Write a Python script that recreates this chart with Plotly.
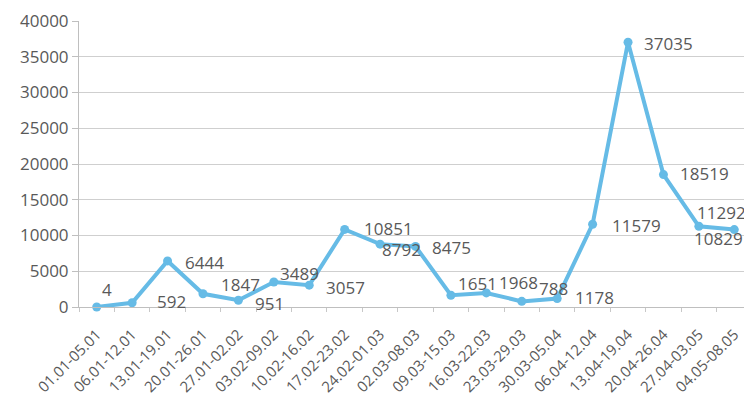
import plotly.graph_objects as go

categories = ["01.01-05.01", "06.01-12.01", "13.01-19.01", "20.01-26.01", "27.01-02.02",
              "03.02-09.02", "10.02-16.02", "17.02-23.02", "24.02-01.03", "02.03-08.03",
              "09.03-15.03", "16.03-22.03", "23.03-29.03", "30.03-05.04", "06.04-12.04",
              "13.04-19.04", "20.04-26.04", "27.04-03.05", "04.05-08.05"]
values = [4, 592, 6444, 1847, 951, 3489, 3057, 10851, 8792, 8475,
          1651, 1968, 788, 1178, 11579, 37035, 18519, 11292, 10829]
y_ticks = [0, 5000, 10000, 15000, 20000, 25000, 30000, 35000, 40000]

# label offsets in pixels (left edge dx, centre dy; screen coords)
label_dx = [3, 23, 15, 16, 15, 4, 15, 17, 0, 14, 5, 11, 15, 16, 17, 14, 15, -4, -42]
label_dy = [-17, -1, 2, -9, 3, -9, 2, -1, 5, 1, -12, -10, -13, -1, 1, 1, -1, -14, 9]

FONT = "Open Sans"
TXT = "#595959"
LINE = "#66bbe6"

fig = go.Figure()
fig.add_trace(go.Scatter(
    x=categories, y=values, mode="lines+markers",
    line=dict(color=LINE, width=4),
    marker=dict(color=LINE, size=9),
    cliponaxis=False, showlegend=False,
))

for i, v in enumerate(values):
    fig.add_annotation(x=categories[i], y=v, text=str(v), showarrow=False,
                       xanchor="left", yanchor="middle",
                       xshift=label_dx[i], yshift=-label_dy[i],
                       font=dict(family=FONT, size=17, color=TXT))

fig.update_layout(
    width=744, height=392,
    margin=dict(l=71, r=0, t=13, b=93),
    paper_bgcolor="white", plot_bgcolor="white",
    font=dict(family=FONT, size=17, color=TXT),
)
fig.update_xaxes(
    type="category", categoryorder="array", categoryarray=categories,
    range=[-0.5, len(categories) - 0.5],
    tickangle=-45, tickfont=dict(family=FONT, size=15, color=TXT),
    tickson="boundaries", ticks="outside", ticklen=4, tickcolor="#c8c8c8",
    ticklabelstandoff=12,
    showgrid=False, showline=True, linecolor="#bfbfbf", linewidth=1,
    zeroline=False, automargin=False,
)
fig.update_yaxes(
    range=[0, 40000], tickvals=y_ticks, ticktext=[str(t) for t in y_ticks],
    showgrid=True, gridcolor="#cfcfcf", gridwidth=1,
    showline=True, linecolor="#bfbfbf", linewidth=1,
    ticks="outside", ticklen=6, tickcolor="#bfbfbf",
    zeroline=False, automargin=False,
    tickfont=dict(family=FONT, size=17, color=TXT),
)

fig.write_html("out.html")
